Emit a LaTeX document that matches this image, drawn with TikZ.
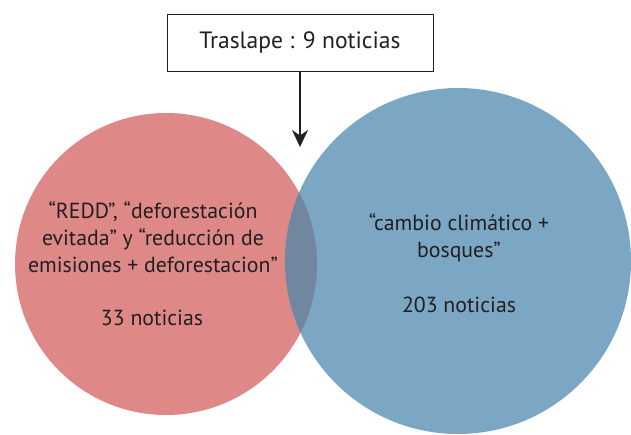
\documentclass[tikz,border=0pt]{standalone}
\usepackage{fontspec}
\setmainfont{PT Sans}
\usetikzlibrary{arrows.meta}
\definecolor{reddcol}{RGB}{222,137,135}
\definecolor{bosquecol}{RGB}{123,166,196}
\definecolor{mixcol}{RGB}{113,134,159}
\definecolor{inkcol}{RGB}{35,31,32}
\begin{document}
\begin{tikzpicture}[x=1pt,y=-1pt,
    venn/.style={circle,inner sep=0pt},
    vtext/.style={align=center,text=inkcol,font=\fontsize{21.8}{27}\selectfont}]
    \useasboundingbox (0,0) rectangle (631,434);
    \node[venn,fill=reddcol,minimum size=302pt] (redd) at (166,264) {};
    \node[venn,fill=bosquecol,minimum size=346pt] (bosques) at (458,261) {};
    \begin{scope}
        \clip (redd.center) circle (151pt);
        \fill[mixcol] (bosques.center) circle (173pt);
    \end{scope}
    \node[draw=inkcol,line width=0.8pt,minimum width=266pt,minimum height=57pt,inner sep=0pt,
        text=inkcol,font=\fontsize{23.6}{28}\selectfont] (traslape) at (300,42.5) {Traslape : 9 noticias};
    \coordinate (tip) at (300,147);
    \draw[inkcol,line width=1.6pt,-{Stealth[length=17pt,width=16pt]}] (traslape.south) -- (tip);
    \node[vtext] (reddtxt) at (153,237) {“REDD”, “deforestación\\evitada” y “reducción de\\emisiones + deforestacion”};
    \node[vtext] (reddnum) at (152,318) {33 noticias};
    \node[vtext] (bosquestxt) at (459,237.5) {“cambio climático +\\bosques”};
    \node[vtext] (bosquesnum) at (459,305) {203 noticias};
\end{tikzpicture}
\end{document}
